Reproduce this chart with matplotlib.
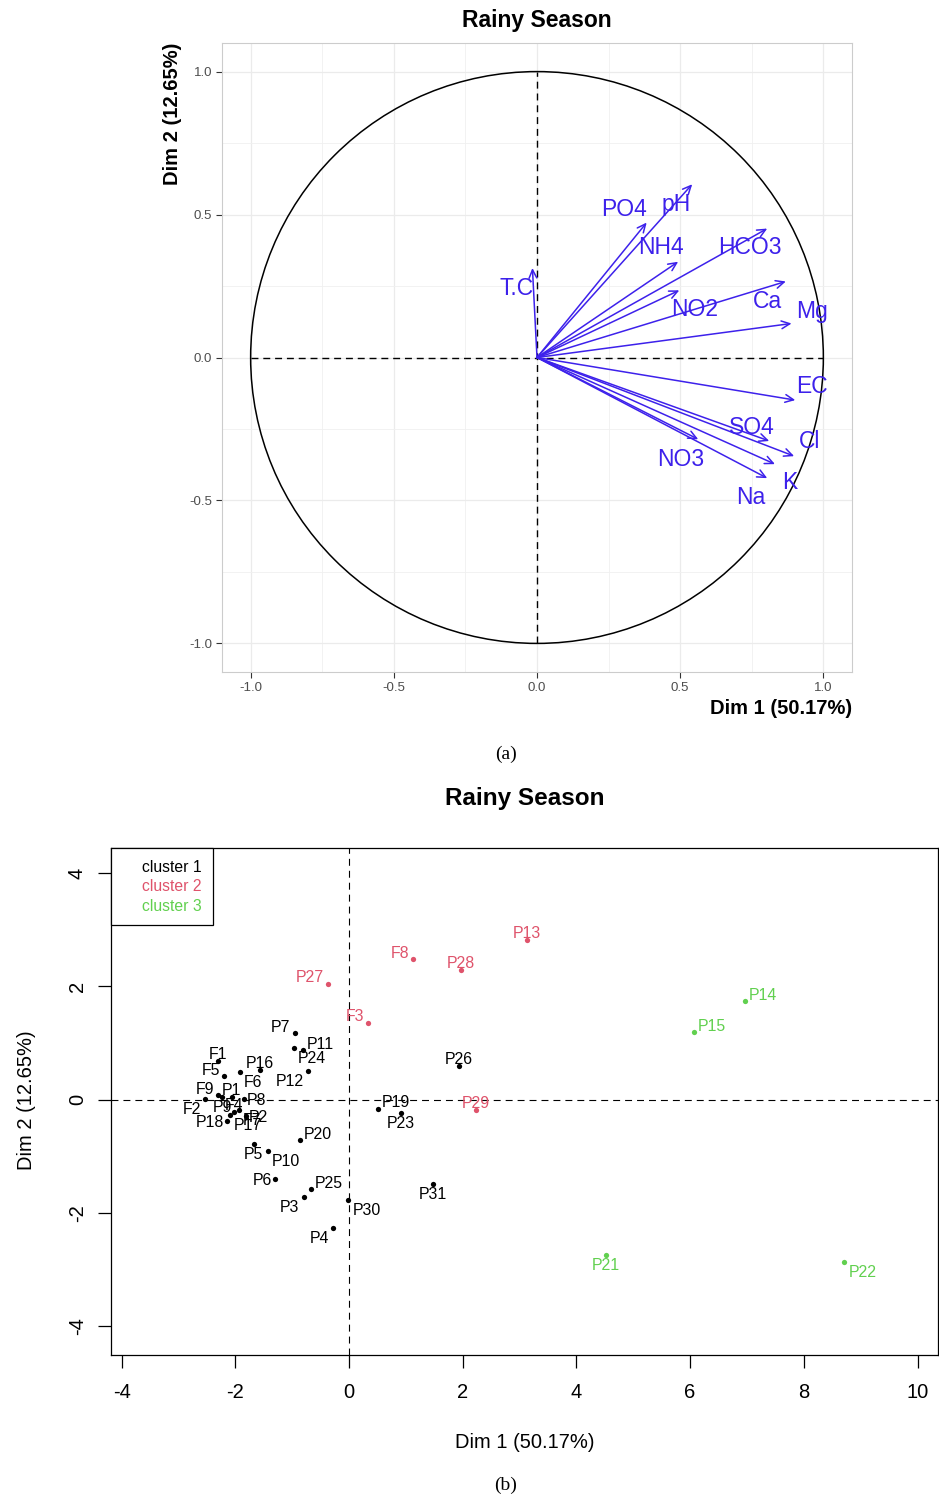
import matplotlib
matplotlib.use("Agg")
import matplotlib.pyplot as plt
from matplotlib.patches import Circle
from matplotlib.lines import Line2D

plt.rcParams["font.family"] = ["Liberation Sans", "DejaVu Sans"]
plt.rcParams["axes.unicode_minus"] = False

# ---- (a) variable correlation circle ----
var_names = ["PO4", "pH", "NH4", "HCO3", "T.C", "NO2", "Ca", "Mg",
             "EC", "SO4", "Cl", "NO3", "K", "Na"]
var_dim1 = [0.383, 0.542, 0.493, 0.804, -0.016, 0.497, 0.869, 0.889,
            0.902, 0.811, 0.898, 0.563, 0.831, 0.804]
var_dim2 = [0.472, 0.606, 0.335, 0.451, 0.313, 0.235, 0.266, 0.119,
            -0.149, -0.292, -0.345, -0.286, -0.373, -0.422]

# ---- (b) individuals with clusters ----
ind_names = ["P7", "P11", "P24", "P12", "P16", "F6", "F5", "F1", "F9", "F2",
             "P1", "P8", "P9", "F4", "F7", "P17", "P2", "P18", "P20", "P5",
             "P10", "P6", "P25", "P3", "P30", "P4", "P19", "P23", "P26", "P31",
             "F3", "P27", "F8", "P28", "P13", "P29",
             "P14", "P15", "P21", "P22"]
ind_dim1 = [-0.957, -0.816, -0.969, -0.728, -1.567, -1.919, -2.193, -2.306, -2.300, -2.527,
            -2.065, -1.848, -2.230, -2.030, -1.940, -2.095, -1.813, -2.153, -0.865, -1.678,
            -1.426, -1.296, -0.670, -0.798, -0.012, -0.283, 0.503, 0.908, 1.933, 1.476,
            0.330, -0.364, 1.124, 1.974, 3.136, 2.232,
            6.957, 6.060, 4.513, 8.715]
ind_dim2 = [1.170, 0.875, 0.915, 0.504, 0.516, 0.480, 0.415, 0.686, 0.080, 0.003,
            0.039, 0.003, 0.040, -0.220, -0.190, -0.265, -0.290, -0.380, -0.716, -0.790,
            -0.910, -1.410, -1.580, -1.720, -1.776, -2.270, -0.162, -0.244, 0.597, -1.493,
            1.357, 2.046, 2.482, 2.288, 2.818, -0.186,
            1.740, 1.193, -2.747, -2.871]
ind_cluster = [1] * 30 + [2] * 6 + [3] * 4

cluster_names = ["cluster 1", "cluster 2", "cluster 3"]
cluster_colors = ["black", "#DF536B", "#61D04F"]

# label placement (data-unit nudges for a, compass side for b)
var_nudge = {"PO4": (-0.079, 0.055), "pH": (-0.057, -0.061), "NH4": (-0.06, 0.059),
             "HCO3": (-0.061, -0.057), "T.C": (-0.057, -0.062), "NO2": (0.054, -0.057),
             "Ca": (-0.063, -0.06), "Mg": (0.071, 0.049), "EC": (0.058, 0.058),
             "SO4": (-0.061, 0.055), "Cl": (0.055, 0.059), "NO3": (-0.06, -0.063),
             "K": (0.052, -0.056), "Na": (-0.057, -0.06)}
ind_side = {"P7": "NW", "P11": "NE", "P24": "SE", "P12": "SW", "P16": "N", "F6": "SE",
            "F5": "NW", "F1": "N", "F9": "NW", "F2": "SW", "P1": "N", "P8": "E",
            "P9": "S", "F4": "N", "F7": "SE", "P17": "SE", "P2": "E", "P18": "W",
            "P20": "NE", "P5": "S", "P10": "SE", "P6": "W", "P25": "NE", "P3": "SW",
            "P30": "SE", "P4": "SW", "P19": "NE", "P23": "S", "P26": "N", "P31": "S",
            "F3": "NW", "P27": "NW", "F8": "NW", "P28": "N", "P13": "N", "P29": "N",
            "P14": "NE", "P15": "NE", "P21": "S", "P22": "SE"}
side_fmt = {"N": (0, 8, "center"), "S": (0, -9, "center"), "E": (3, 0, "left"),
            "W": (-3, 0, "right"), "NE": (4, 7.5, "left"), "NW": (-4, 7.5, "right"),
            "SE": (4, -9, "left"), "SW": (-4, -9, "right")}

W, H = 939, 1499
fig = plt.figure(figsize=(W / 100, H / 100), dpi=100)
blue = "#3D21EB"

# ================= panel (a) =================
ax1 = fig.add_axes([222 / W, 1 - 672 / H, 630 / W, 629 / H])
ax1.set_xlim(-1.1, 1.1)
ax1.set_ylim(-1.1, 1.1)
ticks = [-1.0, -0.5, 0.0, 0.5, 1.0]
ax1.set_xticks(ticks)
ax1.set_yticks(ticks)
ax1.set_xticklabels([f"{t:.1f}" for t in ticks])
ax1.set_yticklabels([f"{t:.1f}" for t in ticks])
ax1.set_xticks([-0.75, -0.25, 0.25, 0.75], minor=True)
ax1.set_yticks([-0.75, -0.25, 0.25, 0.75], minor=True)
ax1.grid(which="major", color="#EBEBEB", lw=0.9)
ax1.grid(which="minor", color="#F0F0F0", lw=0.6)
ax1.set_axisbelow(True)
ax1.tick_params(which="major", length=4, width=0.8, color="#333333",
                labelcolor="#4D4D4D", labelsize=9.5, pad=3)
ax1.tick_params(which="minor", length=0)
for s in ax1.spines.values():
    s.set_color("#CCCCCC")
    s.set_linewidth(0.8)

ax1.plot([-1, 1], [0, 0], color="black", lw=1.0, ls=(0, (5, 3.5)))
ax1.plot([0, 0], [-1, 1], color="black", lw=1.0, ls=(0, (5, 3.5)))
ax1.add_patch(Circle((0, 0), 1, fill=False, ec="black", lw=1.1))

for name, x, y in zip(var_names, var_dim1, var_dim2):
    ax1.annotate("", xy=(x, y), xytext=(0, 0),
                 arrowprops=dict(arrowstyle="->,head_length=0.6,head_width=0.28",
                                 color=blue, lw=1.1, shrinkA=0, shrinkB=0,
                                 mutation_scale=10))
    dx, dy = var_nudge[name]
    ax1.text(x + dx, y + dy, name, color=blue, fontsize=16.5,
             ha="center", va="center_baseline")

fig.text(537 / W, 1 - 21 / H, "Rainy Season", ha="center", va="center",
         fontsize=16.5, fontweight="bold")
fig.text(852 / W, 1 - 709 / H, "Dim 1 (50.17%)", ha="right", va="center",
         fontsize=14.5, fontweight="bold")
fig.text(173 / W, 1 - 43 / H, "Dim 2 (12.65%)", ha="center", va="top",
         rotation=90, fontsize=14.5, fontweight="bold")
fig.text(506 / W, 1 - 754 / H, "(a)", ha="center", va="center",
         fontsize=14, family="Liberation Serif")

# ================= panel (b) =================
ax2 = fig.add_axes([111 / W, 1 - 1355 / H, 827 / W, 507 / H])
ax2.set_xlim(-4.186, 10.36)
ax2.set_ylim(-4.51, 4.443)
ax2.set_xticks(range(-4, 11, 2))
ax2.set_yticks(range(-4, 5, 2))
ax2.tick_params(length=9.4, width=0.9, labelsize=14.5, color="black")
ax2.tick_params(axis="x", pad=11)
ax2.tick_params(axis="y", pad=8)
for lab in ax2.get_yticklabels():
    lab.set_rotation(90)
    lab.set_va("center")
for s in ax2.spines.values():
    s.set_color("black")
    s.set_linewidth(0.9)

ax2.axhline(0, color="black", lw=0.8, ls=(0, (6.25, 4.5)))
ax2.axvline(0, color="black", lw=0.8, ls=(0, (6.25, 4.5)))

for k, col in enumerate(cluster_colors, start=1):
    xs = [x for x, c in zip(ind_dim1, ind_cluster) if c == k]
    ys = [y for y, c in zip(ind_dim2, ind_cluster) if c == k]
    ax2.plot(xs, ys, "o", color=col, markersize=3.8, mec="none")

for name, x, y, c in zip(ind_names, ind_dim1, ind_dim2, ind_cluster):
    dx, dy, ha = side_fmt[ind_side[name]]
    ax2.annotate(name, xy=(x, y), xytext=(dx, dy), textcoords="offset pixels",
                 ha=ha, va="center_baseline", fontsize=11.4,
                 color=cluster_colors[c - 1])

leg = ax2.legend(handles=[Line2D([], [], ls="none") for _ in cluster_names],
                 labels=cluster_names, labelcolor=cluster_colors,
                 loc="upper left", bbox_to_anchor=(0, 1), borderaxespad=0,
                 frameon=True, fancybox=False, edgecolor="black", framealpha=1,
                 fontsize=11.3, handlelength=0.8, handletextpad=0.4,
                 borderpad=0.75, labelspacing=0.28)
leg.get_frame().set_linewidth(0.9)

fig.text(525 / W, 1 - 798 / H, "Rainy Season", ha="center", va="center",
         fontsize=17.5, fontweight="bold")
fig.text(525 / W, 1 - 1442 / H, "Dim 1 (50.17%)", ha="center", va="center",
         fontsize=14.5)
fig.text(27 / W, 1 - 1100 / H, "Dim 2 (12.65%)", ha="center", va="center",
         rotation=90, fontsize=14.5)
fig.text(506 / W, 1 - 1485 / H, "(b)", ha="center", va="center",
         fontsize=14, family="Liberation Serif")

fig.savefig("out.png", dpi=100)
